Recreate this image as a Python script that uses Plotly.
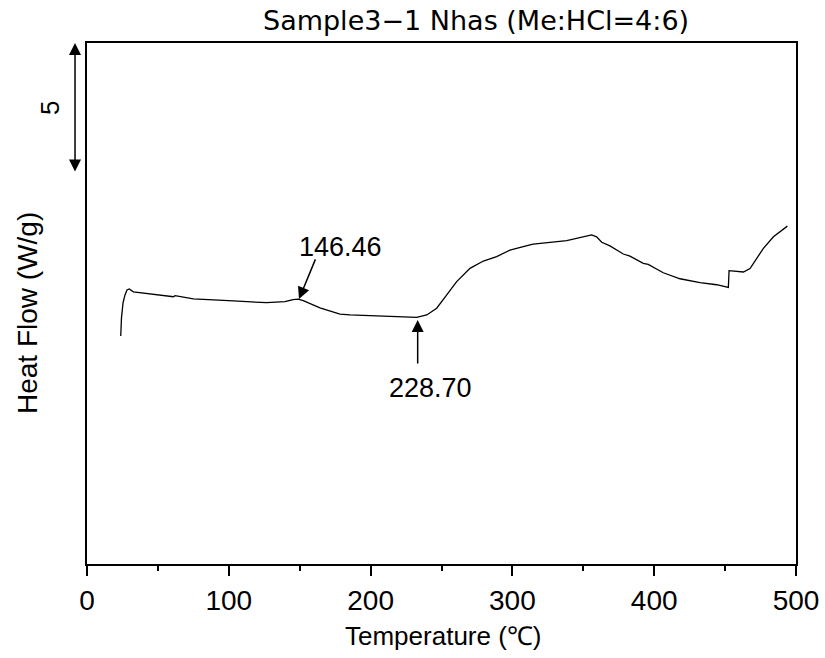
import plotly.graph_objects as go

# Temperature (°C) and heat flow (W/g, arbitrary offset)
temperature = [23.8, 24.3, 25.4, 26.8, 28.2, 29.8, 32.7, 44.4, 60.9, 62.1, 75.0, 103.2,
               126.7, 139.6, 145.3, 149.0, 152.5, 164.3, 178.4, 185.5, 206.6, 220.7,
               232.5, 239.6, 246.6, 253.7, 260.7, 270.1, 279.5, 288.9, 298.3, 312.4,
               314.7, 338.3, 355.9, 359.4, 363.0, 368.8, 378.2, 382.9, 392.3, 395.8,
               406.4, 418.2, 432.3, 444.1, 452.3, 452.8, 455.8, 462.9, 467.6, 477.0,
               484.1, 493.9]
heat_flow = [8.75, 9.44, 10.02, 10.33, 10.52, 10.56, 10.45, 10.38, 10.26, 10.30, 10.18, 10.10,
             10.03, 10.07, 10.15, 10.17, 10.11, 9.83, 9.59, 9.56, 9.52, 9.49,
             9.47, 9.56, 9.82, 10.33, 10.84, 11.35, 11.63, 11.80, 12.05, 12.25,
             12.28, 12.41, 12.63, 12.56, 12.35, 12.21, 11.90, 11.82, 11.54, 11.50,
             11.18, 10.95, 10.80, 10.72, 10.62, 11.26, 11.25, 11.21, 11.34, 12.12,
             12.56, 12.97]

x_ticks = [0, 100, 200, 300, 400, 500]
peak_label = "146.46"
onset_label = "228.70"
title_text = "Sample3\u22121 Nhas (Me:HCl=4:6)"

WIDE = "DejaVu Sans, sans-serif"
ARIAL = "Liberation Sans, Arial, sans-serif"

fig = go.Figure()
fig.add_trace(go.Scatter(x=temperature, y=heat_flow, mode="lines",
                         line=dict(color="black", width=1.3), showlegend=False,
                         hoverinfo="skip"))

fig.update_layout(
    width=825, height=658,
    margin=dict(l=87, r=29, t=43, b=94),
    paper_bgcolor="white", plot_bgcolor="white",
    xaxis=dict(range=[0, 500], tickvals=x_ticks, ticks="outside", ticklen=10,
               tickwidth=2, tickcolor="black", showline=True, linewidth=2,
               linecolor="black", mirror=True, showgrid=False, zeroline=False,
               automargin=False,
               tickfont=dict(family=ARIAL, size=28, color="black"),
               minor=dict(tickvals=[50, 150, 250, 350, 450], ticks="outside",
                          ticklen=5, tickwidth=2, tickcolor="black")),
    yaxis=dict(range=[0, 20], showticklabels=False, ticks="", showline=True,
               linewidth=2, linecolor="black", mirror=True, showgrid=False,
               zeroline=False, automargin=False),
)

annotations = [
    dict(text=title_text, xref="paper", yref="paper", x=0.5487, y=1.044,
         showarrow=False, xanchor="center", yanchor="middle",
         font=dict(family=WIDE, size=27, color="black")),
    dict(text="Temperature (\u2103)", xref="paper", yref="paper", x=0.503, y=-0.138,
         showarrow=False, xanchor="center", yanchor="middle",
         font=dict(family=ARIAL, size=26, color="black")),
    dict(text="Heat Flow (W/g)", xref="paper", yref="paper", x=-0.0832, y=0.4818,
         showarrow=False, xanchor="center", yanchor="middle", textangle=-90,
         font=dict(family=ARIAL, size=28, color="black")),
    dict(text="5", xref="paper", yref="paper", x=-0.0522, y=0.8752,
         showarrow=False, xanchor="center", yanchor="middle", textangle=-90,
         font=dict(family=ARIAL, size=26, color="black")),
    # scale bar (double arrow)
    dict(text="", xref="paper", yref="paper", x=-0.0169, y=1.0,
         ax=0, ay=130, showarrow=True, arrowside="end+start", arrowhead=2,
         startarrowhead=2, arrowsize=1.6, startarrowsize=1.6, arrowwidth=1.5,
         arrowcolor="black"),
    # peak label
    dict(text=peak_label, xref="x", yref="y", x=179.1, y=12.17, showarrow=False,
         xanchor="center", yanchor="middle",
         font=dict(family=ARIAL, size=27, color="black")),
    dict(text="", xref="x", yref="y", x=149.5, y=10.17, axref="x", ayref="y",
         ax=161.5, ay=11.75, showarrow=True, arrowhead=2, arrowsize=1.6,
         arrowwidth=1.5, arrowcolor="black"),
    # onset label
    dict(text=onset_label, xref="x", yref="y", x=242.2, y=6.76, showarrow=False,
         xanchor="center", yanchor="middle",
         font=dict(family=ARIAL, size=27, color="black")),
    dict(text="", xref="x", yref="y", x=233.2, y=9.37, axref="x", ayref="y",
         ax=233.2, ay=7.64, showarrow=True, arrowhead=2, arrowsize=1.6,
         arrowwidth=1.5, arrowcolor="black"),
]
fig.update_layout(annotations=annotations)

fig.write_html("out.html",
               config={"displayModeBar": False},
               post_script="document.body.style.margin='0';"
                           "document.body.style.overflow='hidden';")
